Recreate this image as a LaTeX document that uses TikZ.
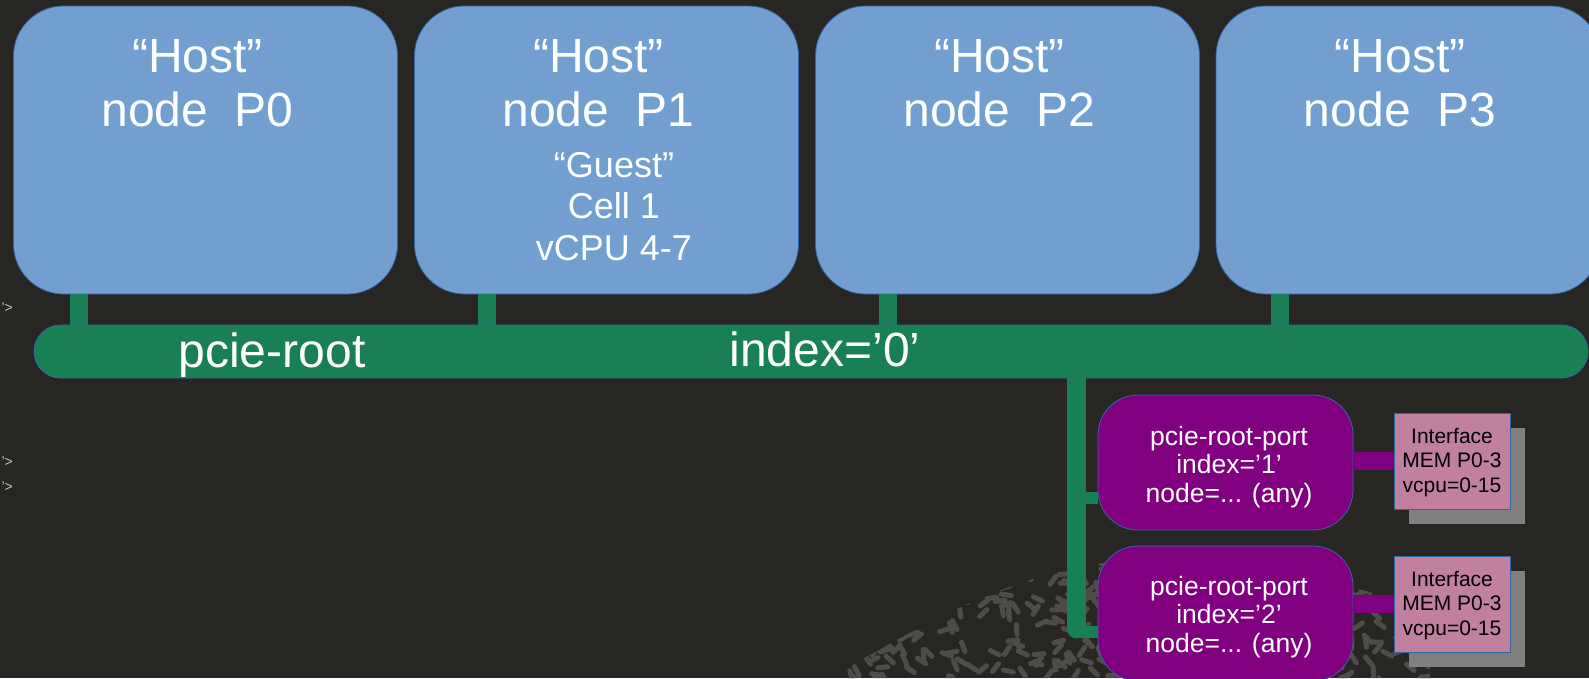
\documentclass[tikz,border=0pt]{standalone}
\usepackage{fontspec}
\setmainfont{Liberation Sans}
\usetikzlibrary{shadows}
\definecolor{bgdark}{RGB}{40,38,35}
\definecolor{hostblue}{RGB}{114,159,207}
\definecolor{edgeblue}{RGB}{52,101,164}
\definecolor{busgreen}{RGB}{25,128,86}
\definecolor{portpurple}{RGB}{128,0,128}
\definecolor{ifpink}{RGB}{193,128,160}
\definecolor{shadowgray}{RGB}{128,128,128}
\definecolor{texgray}{RGB}{78,76,72}

\begin{document}
\begin{tikzpicture}[x=1pt, y=-1pt,
  host/.style={draw=edgeblue, line width=.8pt, fill=hostblue, rounded corners=50pt,
    minimum width=384pt, minimum height=288pt, inner sep=0pt},
  big/.style={text=white, font=\fontsize{48}{54}\selectfont, inner sep=0pt, anchor=base, align=center},
  mid/.style={text=white, font=\fontsize{36}{41.5}\selectfont, inner sep=0pt, anchor=base, align=center},
  stub/.style={busgreen, line width=18pt},
  bus/.style={draw=edgeblue, line width=.8pt, fill=busgreen, rounded corners=26.5pt,
    minimum width=1554pt, minimum height=53pt, inner sep=0pt},
  bar/.style={busgreen, line width=19pt, line cap=round},
  branch/.style={busgreen, line width=12pt},
  port/.style={draw=edgeblue, line width=.8pt, fill=portpurple, rounded corners=40pt,
    minimum width=255pt, minimum height=135pt, inner sep=0pt},
  porttext/.style={text=white, align=center, inner sep=0pt, anchor=base,
    font=\fontsize{26.5}{28.5}\selectfont},
  plink/.style={portpurple, line width=18pt},
  iface/.style={draw=edgeblue, line width=.8pt, fill=ifpink, minimum width=116pt, minimum height=96pt,
    inner sep=0pt, general shadow={fill=shadowgray, draw=none, shadow xshift=15pt, shadow yshift=-15pt}},
  iftext/.style={align=center, inner sep=0pt, anchor=base, font=\fontsize{21}{24.5}\selectfont},
  edgemark/.style={text=white!78!black, font=\fontsize{14}{14}\selectfont, inner sep=0pt, anchor=east}]

\useasboundingbox (0,0) rectangle (1589,678);
\fill[bgdark] (0,0) rectangle (1589,678);

% background texture
\begin{scope}
\clip (830,678) .. controls (930,620) and (1010,575) .. (1110,562)
  .. controls (1230,550) and (1350,585) .. (1430,610) -- (1430,678) -- cycle;
\pgfmathsetseed{42}
\foreach \k in {1,...,420} {
  \pgfmathsetmacro\tx{830+600*rnd}
  \pgfmathsetmacro\ty{550+130*rnd}
  \pgfmathsetmacro\ta{-60+150*rnd}
  \draw[texgray, line width=5pt, line cap=round] (\tx,\ty) -- ++(\ta:10);
}
\end{scope}

% cut-off text at the left edge
\node[edgemark] (m1) at (13,308) {’>};
\node[edgemark] (m2) at (13,462) {’>};
\node[edgemark] (m3) at (13,487) {’>};

% host nodes
\foreach \i/\x in {0/205.5,1/606.5,2/1007.5,3/1408} {
  \node[host] (h\i) at (\x,150) {};
  \node[big] (ht\i) at (\x-8,126) {“Host”\\node~~P\i};
}
\node[mid] (guest) at (614,260) {“Guest”\\Cell 1\\vCPU 4-7};

% links to the root bus
\foreach \i/\dx in {0/-127,1/-120,2/-120,3/-128}
  \draw[stub] ([xshift=\dx pt]h\i.south) -- ([xshift=\dx pt]h\i.south |- 0,325);

\node[bus] (bus) at (811,351.5) {};
\node[big] (rootlbl) at (272,367) {pcie-root};
\node[big] (idx0) at (825,366) {index=’0’};

% root ports
\coordinate (tap) at (1076.5,378);
\draw[bar] (tap) -- ++(0,251);
\node[port] (p1) at (1225.5,462.5) {};
\node[port] (p2) at (1225.5,613.5) {};
\node[porttext] (pt1) at (1229,502) {pcie-root-port\\index=’1’\\node=... (any)};
\node[porttext] (pt2) at (1229,652) {pcie-root-port\\index=’2’\\node=... (any)};
\draw[branch] ([yshift=-35.5pt]p1.west -| tap) -- ([yshift=-35.5pt]p1.west);
\draw[branch] ([yshift=-18.5pt]p2.west -| tap) -- ([yshift=-18.5pt]p2.west);

% interfaces
\node[iface] (if1) at (1452,461) {};
\node[iface] (if2) at (1452,604) {};
\node[iftext] (it1) at (1452,492) {Interface\\MEM P0-3\\vcpu=0-15};
\node[iftext] (it2) at (1452,635) {Interface\\MEM P0-3\\vcpu=0-15};
\draw[plink] (if1.west -| p1.east) -- (if1.west);
\draw[plink] (if2.west -| p2.east) -- (if2.west);
\end{tikzpicture}
\end{document}
